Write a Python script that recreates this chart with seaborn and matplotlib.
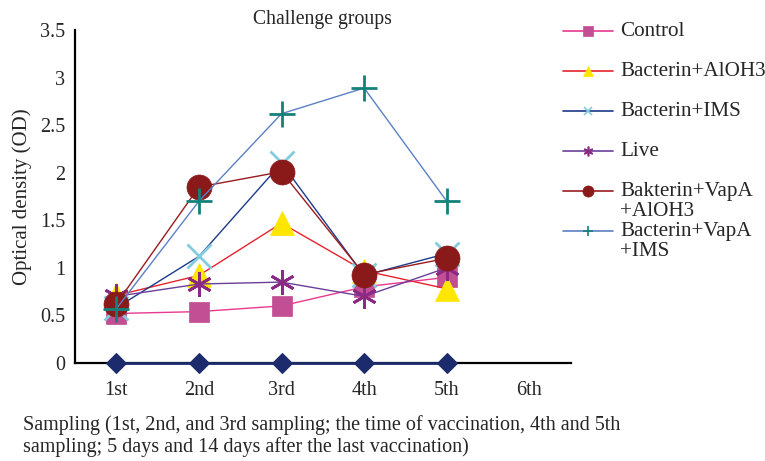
import matplotlib
matplotlib.use("Agg")
import matplotlib.pyplot as plt
import seaborn as sns
import pandas as pd
import numpy as np
from matplotlib.lines import Line2D

sns.set_theme(style="white")
plt.rcParams['font.family'] = ['Liberation Serif', 'DejaVu Serif']

categories = ["1st", "2nd", "3rd", "4th", "5th", "6th"]
sampled = ["1st", "2nd", "3rd", "4th", "5th"]

control = [0.52, 0.54, 0.60, 0.80, 0.90]
bacterin_aloh3 = [0.71, 0.92, 1.47, 0.97, 0.78]
bacterin_ims = [0.58, 1.12, 2.10, 0.92, 1.15]
live = [0.70, 0.83, 0.85, 0.70, 1.00]
bakterin_vapa_aloh3 = [0.62, 1.85, 2.01, 0.93, 1.10]
bacterin_vapa_ims = [0.57, 1.70, 2.62, 2.89, 1.70]
baseline = [0.0, 0.0, 0.0, 0.0, 0.0]

series_names = ["Control", "Bacterin+AlOH3", "Bacterin+IMS", "Live",
                "Bakterin+VapA\n+AlOH3", "Bacterin+VapA\n+IMS"]
series_values = [control, bacterin_aloh3, bacterin_ims, live,
                 bakterin_vapa_aloh3, bacterin_vapa_ims]

styles = [
    dict(line="#E8398F", marker="s", mfc="#C24E94", mec="#C24E94", ms=15, mew=0.5, lms=7),
    dict(line="#E8222B", marker="^", mfc="#FFE600", mec="#FFE600", ms=17, mew=0.5, lms=7),
    dict(line="#1B3A8A", marker="x", mfc="#82CCDD", mec="#82CCDD", ms=17, mew=2.0, lms=6),
    dict(line="#6B3E98", marker=(6, 2, 0), mfc="#8A2A84", mec="#8A2A84", ms=18, mew=2.0, lms=7),
    dict(line="#9A1B20", marker="o", mfc="#8A1919", mec="#8A1919", ms=18, mew=0.5, lms=8),
    dict(line="#5B80C4", marker="+", mfc="#14807A", mec="#14807A", ms=19, mew=2.0, lms=7),
]

fig = plt.figure(figsize=(7.65, 4.61), dpi=100)
ax = fig.add_axes([0.098, 0.2126, 0.648, 0.7224])

pos = {c: i for i, c in enumerate(categories)}

# unlabelled baseline series (diamonds at 0)
df0 = pd.DataFrame({"x": [pos[c] for c in sampled], "y": baseline})
sns.lineplot(data=df0, x="x", y="y", ax=ax, color="#1C2B6B", marker="D",
             markersize=10, markerfacecolor="#1C2B6B", markeredgecolor="#1C2B6B",
             linewidth=2, legend=False, zorder=5, clip_on=False)

for name, vals, st in zip(series_names, series_values, styles):
    df = pd.DataFrame({"x": [pos[c] for c in sampled], "y": vals})
    sns.lineplot(data=df, x="x", y="y", ax=ax, color=st["line"], marker=st["marker"],
                 markersize=st["ms"], markerfacecolor=st["mfc"],
                 markeredgecolor=st["mec"], markeredgewidth=st["mew"],
                 linewidth=1.0, legend=False, zorder=3)

ax.set_xlim(-0.5, 5.5)
ax.set_ylim(0, 3.5)
ax.set_yticks(np.arange(0, 3.51, 0.5))
ax.set_yticklabels(["0", "0.5", "1", "1.5", "2", "2.5", "3", "3.5"])
ax.set_xticks(np.arange(-0.5, 5.6, 1.0))
ax.set_xticklabels([])
ax.set_xticks(range(len(categories)), minor=True)
ax.set_xticklabels(categories, minor=True)
ax.tick_params(axis="x", which="major", direction="out", length=6, width=1.2, color="black")
ax.tick_params(axis="x", which="minor", length=0, pad=13, labelsize=14.5)
ax.tick_params(axis="y", direction="out", length=5, width=1.2, color="black", labelsize=14.5, pad=2)

for s in ["top", "right"]:
    ax.spines[s].set_visible(False)
for s in ["left", "bottom"]:
    ax.spines[s].set_color("black")
    ax.spines[s].set_linewidth(1.6)

ax.set_xlabel("")
ax.set_ylabel("Optical density (OD)", fontsize=15, labelpad=6)
ax.set_title("Challenge groups", fontsize=14.2, pad=4)

fig.text(0.03, 1 - 415 / 461, "Sampling (1st, 2nd, and 3rd sampling; the time of vaccination, 4th and 5th\n"
         "sampling; 5 days and 14 days after the last vaccination)",
         fontsize=14.5, ha="left", va="top", linespacing=1.15)

# legend, drawn manually
H, W = 461, 765
y0 = 31
for i, (name, st) in enumerate(zip(series_names, styles)):
    yy = 1 - (y0 + i * 40) / H
    fig.add_artist(Line2D([563 / W, 613 / W], [yy, yy], color=st["line"], linewidth=1.2,
                          transform=fig.transFigure))
    fig.add_artist(Line2D([588 / W], [yy], marker=st["marker"], markersize=st["lms"],
                          markerfacecolor=st["mfc"], markeredgecolor=st["mec"],
                          markeredgewidth=1.2 if st["marker"] in ("x", "+", (6, 2, 0)) else 0.5,
                          linestyle="none", transform=fig.transFigure))
    fig.text(620 / W, yy + 9 / H, name, fontsize=15.2, ha="left", va="top",
             linespacing=1.08)

fig.savefig("out.png", dpi=100)
